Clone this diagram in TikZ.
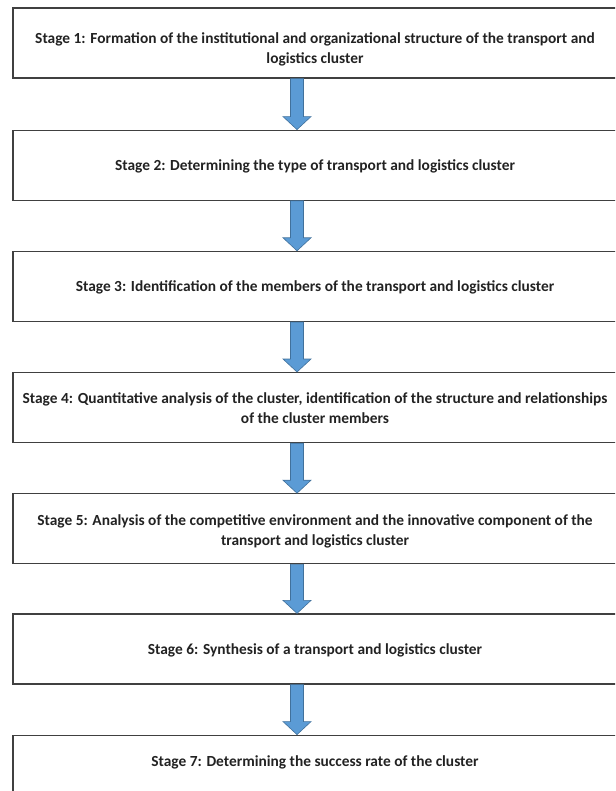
\documentclass[tikz,border=0pt]{standalone}
\usepackage{fontspec}
\setmainfont{Carlito}
\usetikzlibrary{positioning, calc}

\definecolor{arrowblue}{RGB}{91,155,213}
\definecolor{arrowedge}{RGB}{65,113,156}
\definecolor{boxedge}{RGB}{64,64,64}
\definecolor{textgray}{RGB}{34,34,34}

\begin{document}
\begin{tikzpicture}
    [x=1pt, y=1pt,
    stagebox/.style={rectangle, draw=boxedge, line width=1.2pt, minimum width=604pt, minimum height=70pt, inner sep=0pt},
    stagetext/.style={font=\bfseries\fontsize{15.4}{20}\selectfont, text=textgray, align=center, yshift=-1pt},
    blockarrow/.style={draw=arrowedge, fill=arrowblue, line width=0.6pt, line join=miter,
        to path={($(\tikztostart)+(-6.5,0)$) -- ($(\tikztostart)+(6.5,0)$) -- ($(\tikztotarget)+(6.5,13)$)
        -- ($(\tikztotarget)+(14,13)$) -- (\tikztotarget) -- ($(\tikztotarget)+(-14,13)$)
        -- ($(\tikztotarget)+(-6.5,13)$) -- cycle}},]

    \useasboundingbox (0,0) rectangle (615,-791);
    \clip (0,0) rectangle (615,-791);

    %Boxes
    \node[stagebox](S1) at (315,-43){};
    \node[stagebox](S2)[below=51pt of S1]{};
    \node[stagebox](S3)[below=50pt of S2]{};
    \node[stagebox](S4)[below=50pt of S3]{};
    \node[stagebox](S5)[below=50pt of S4]{};
    \node[stagebox](S6)[below=49pt of S5]{};
    \node[stagebox](S7)[below=50pt of S6]{};

    %Texts
    \node[stagetext, yshift=-5pt](T1) at (S1){Stage 1: Formation of the institutional and organizational structure of the transport and\\logistics cluster};
    \node[stagetext](T2) at (S2){Stage 2: Determining the type of transport and logistics cluster};
    \node[stagetext](T3) at (S3){Stage 3: Identification of the members of the transport and logistics cluster};
    \node[stagetext](T4) at (S4){Stage 4: Quantitative analysis of the cluster, identification of the structure and relationships\\of the cluster members};
    \node[stagetext, yshift=-2pt](T5) at (S5){Stage 5: Analysis of the competitive environment and the innovative component of the\\transport and logistics cluster};
    \node[stagetext](T6) at (S6){Stage 6: Synthesis of a transport and logistics cluster};
    \node[stagetext, yshift=9pt](T7) at (S7){Stage 7: Determining the success rate of the cluster};

    %Arrows
    \draw[blockarrow]([xshift=-18pt]S1.south) to ([xshift=-18pt]S2.north);
    \draw[blockarrow]([xshift=-18pt]S2.south) to ([xshift=-18pt]S3.north);
    \draw[blockarrow]([xshift=-18pt]S3.south) to ([xshift=-18pt]S4.north);
    \draw[blockarrow]([xshift=-18pt]S4.south) to ([xshift=-18pt]S5.north);
    \draw[blockarrow]([xshift=-18pt]S5.south) to ([xshift=-18pt]S6.north);
    \draw[blockarrow]([xshift=-18pt]S6.south) to ([xshift=-18pt]S7.north);

\end{tikzpicture}
\end{document}
